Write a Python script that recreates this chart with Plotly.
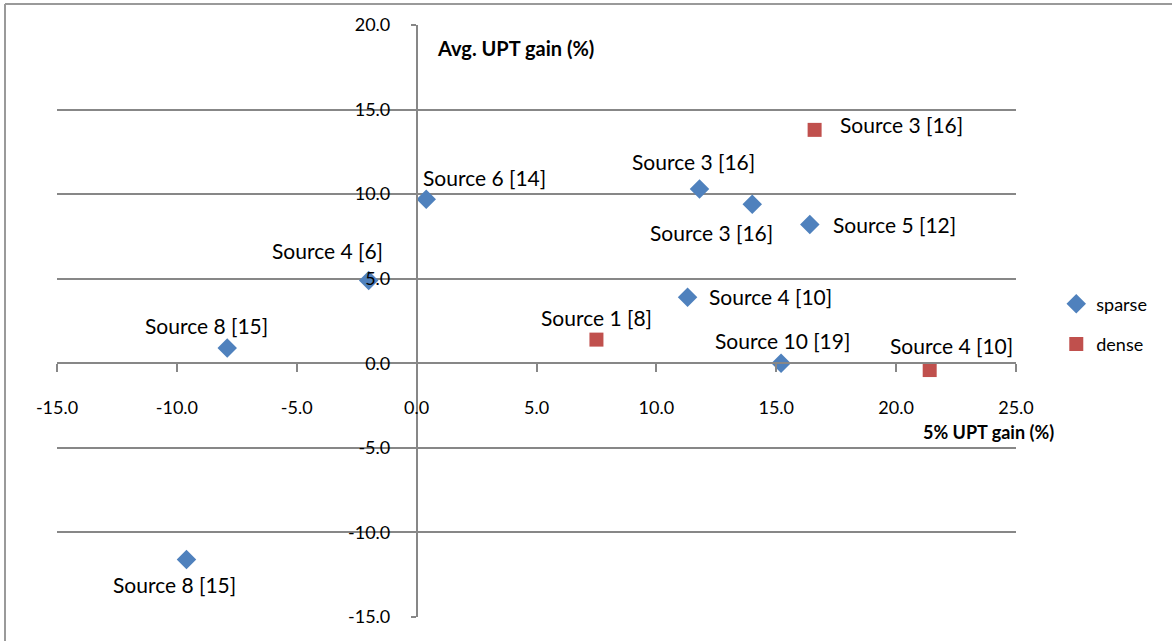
import plotly.graph_objects as go

# ---- data ----
sparse_x = [0.4, -2.0, -7.9, -9.6, 11.8, 14.0, 16.4, 11.3, 15.2]
sparse_y = [9.7, 4.9, 0.9, -11.6, 10.3, 9.4, 8.2, 3.9, 0.0]
sparse_labels = ["Source 6 [14]", "Source 4 [6]", "Source 8 [15]", "Source 8 [15]",
                 "Source 3 [16]", "Source 3 [16]", "Source 5 [12]", "Source 4 [10]",
                 "Source 10 [19]"]
dense_x = [16.6, 7.5, 21.4]
dense_y = [13.8, 1.4, -0.4]
dense_labels = ["Source 3 [16]", "Source 1 [8]", "Source 4 [10]"]

x_ticks = [-15, -10, -5, 0, 5, 10, 15, 20, 25]
y_ticks = [-15, -10, -5, 0, 5, 10, 15, 20]
x_title = "5% UPT gain (%)"
y_title = "Avg. UPT gain (%)"

# ---- styles (label offsets in px) ----
sparse_offsets = [(58, 22), (-41, 30), (-21, 23), (-12, -25), (-6, 28),
                  (-41, -28), (85, 0), (83, 1), (1, 23)]
dense_offsets = [(87, 5), (0, 22), (22, 25)]

FONT = "Lato"
BLUE = "#4F81BD"
RED = "#C0504D"
GRID = "#878787"
XMIN, XMAX = -15, 25
YMIN, YMAX = -15, 20

fig = go.Figure()
fig.add_trace(go.Scatter(x=sparse_x, y=sparse_y, mode="markers", name="sparse",
                         legendgroup="a",
                         marker=dict(symbol="diamond", size=15, color=BLUE)))
fig.add_trace(go.Scatter(x=dense_x, y=dense_y, mode="markers", name="dense",
                         legendgroup="b",
                         marker=dict(symbol="square", size=14, color=RED)))

annotations = []
for xs, ys, labs, offs in [(sparse_x, sparse_y, sparse_labels, sparse_offsets),
                           (dense_x, dense_y, dense_labels, dense_offsets)]:
    for x, y, t, (dx, dy) in zip(xs, ys, labs, offs):
        annotations.append(dict(x=x, y=y, text=t, showarrow=False,
                                xshift=dx, yshift=dy,
                                font=dict(family=FONT, size=21, color="#000000")))

annotations.append(dict(x=0, y=YMAX, xref="x", yref="y", text="<b>" + y_title + "</b>",
                        showarrow=False, xanchor="left", yanchor="middle",
                        xshift=18, yshift=-23,
                        font=dict(family=FONT, size=20, color="#000000")))
annotations.append(dict(x=XMAX, y=0, xref="x", yref="y", text="<b>" + x_title + "</b>",
                        showarrow=False, xanchor="right", yanchor="middle",
                        xshift=40, yshift=-69,
                        font=dict(family=FONT, size=18, color="#000000")))

BX0 = (5 - 57) / 959
BY1 = (617 - 4) / 592
border = dict(color="#9A9A9A", width=2)

fig.update_layout(
    width=1172, height=641,
    margin=dict(l=57, r=156, t=25, b=24, autoexpand=False),
    paper_bgcolor="white", plot_bgcolor="white",
    font=dict(family=FONT, size=16, color="#000000"),
    showlegend=True,
    legend=dict(x=1.042, y=0.56, xanchor="left", yanchor="top",
                traceorder="grouped", tracegroupgap=14,
                font=dict(family=FONT, size=18), itemwidth=30,
                bgcolor="rgba(0,0,0,0)"),
    annotations=annotations,
    xaxis=dict(range=[XMIN, XMAX], tickvals=x_ticks,
               ticktext=[f"{v:.1f}" for v in x_ticks],
               showgrid=False, zeroline=False, automargin=False,
               showline=True, linecolor=GRID, linewidth=1.5,
               ticks="outside", ticklen=8, tickcolor=GRID, tickwidth=1.5,
               anchor="free", position=(0 - YMIN) / (YMAX - YMIN),
               ticklabelstandoff=20,
               tickfont=dict(family=FONT, size=18, color="#000000")),
    yaxis=dict(range=[YMIN, YMAX], tickvals=y_ticks,
               ticktext=[f"{v:.1f}" for v in y_ticks],
               showgrid=True, gridcolor=GRID, gridwidth=1.5, zeroline=False,
               automargin=False,
               showline=True, linecolor=GRID, linewidth=1.5,
               ticks="outside", ticklen=5, tickcolor=GRID, tickwidth=1.5,
               anchor="free", position=(0 - XMIN) / (XMAX - XMIN),
               ticklabelstandoff=17,
               tickfont=dict(family=FONT, size=18, color="#000000")),
    shapes=[
        dict(type="line", xref="paper", yref="paper",
             x0=BX0, x1=1.3, y0=BY1, y1=BY1, line=border, layer="below"),
        dict(type="line", xref="paper", yref="paper",
             x0=BX0, x1=BX0, y0=-0.2, y1=BY1, line=border, layer="below"),
    ],
)

fig.write_html("out.html", config={"displayModeBar": False},
               post_script="document.body.style.margin='0px';")
